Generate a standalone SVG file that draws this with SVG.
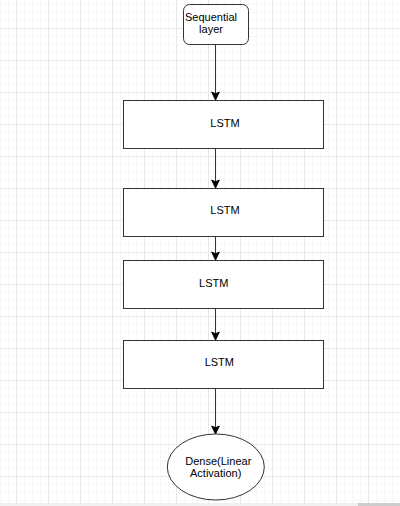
<svg xmlns="http://www.w3.org/2000/svg" width="400" height="506" viewBox="0 0 400 506">
<defs>
<pattern id="minor" patternUnits="userSpaceOnUse" x="0" y="4" width="8" height="8">
<path d="M0.5 0V8M0 0.5H8" stroke="#f7f7f7" stroke-width="1" fill="none"/>
</pattern>
<pattern id="major" patternUnits="userSpaceOnUse" x="16" y="28" width="32" height="32">
<path d="M0.5 0V32M0 0.5H32" stroke="#e8e8e8" stroke-width="1" fill="none"/>
</pattern>
<marker id="arr" markerUnits="userSpaceOnUse" markerWidth="10" markerHeight="10" viewBox="0 0 10 10" refX="9" refY="5" orient="auto">
<path d="M9 5L1 1.2L2.8 5L1 8.8Z" fill="#000" stroke="#000" stroke-width="1"/>
</marker>
<style>
.box{fill:#fff;stroke:#333;stroke-width:1}
.t{font-family:"Liberation Sans",Arial,sans-serif;font-size:11px;fill:#000;text-anchor:middle}
.c{stroke:#333;stroke-width:1;fill:none;marker-end:url(#arr)}
</style>
</defs>
<rect width="400" height="506" fill="#fff"/>
<rect width="400" height="506" fill="url(#minor)"/>
<rect width="400" height="506" fill="url(#major)"/>
<rect x="0" y="503" width="400" height="3" fill="#f0f0f0"/>
<rect x="358" y="503" width="42" height="3" fill="#cdcdcd"/>
<g id="connectors">
<path class="c" d="M215.5 44.5V100"/>
<path class="c" d="M215.5 148.5V188"/>
<path class="c" d="M215.5 236.5V260"/>
<path class="c" d="M215.5 308.5V340"/>
<path class="c" d="M215.5 388.5V434"/>
</g>
<g id="sequential">
<rect class="box" x="183.5" y="4.5" width="65" height="40" rx="6"/>
<text class="t" x="211" y="21">Sequential</text>
<text class="t" x="211" y="33">layer</text>
</g>
<g id="lstm1">
<rect class="box" x="123.5" y="100.5" width="200" height="48"/>
<text class="t" x="225" y="126.5">LSTM</text>
</g>
<g id="lstm2">
<rect class="box" x="123.5" y="188.5" width="200" height="48"/>
<text class="t" x="225" y="214">LSTM</text>
</g>
<g id="lstm3">
<rect class="box" x="123.5" y="260.5" width="200" height="48"/>
<text class="t" x="213.7" y="286.5">LSTM</text>
</g>
<g id="lstm4">
<rect class="box" x="123.5" y="340.5" width="200" height="48"/>
<text class="t" x="219.3" y="366">LSTM</text>
</g>
<g id="dense">
<ellipse class="box" cx="215.8" cy="467" rx="48.5" ry="33"/>
<text class="t" x="218.3" y="465">Dense(Linear</text>
<text class="t" x="215.7" y="477">Activation)</text>
</g>
</svg>
